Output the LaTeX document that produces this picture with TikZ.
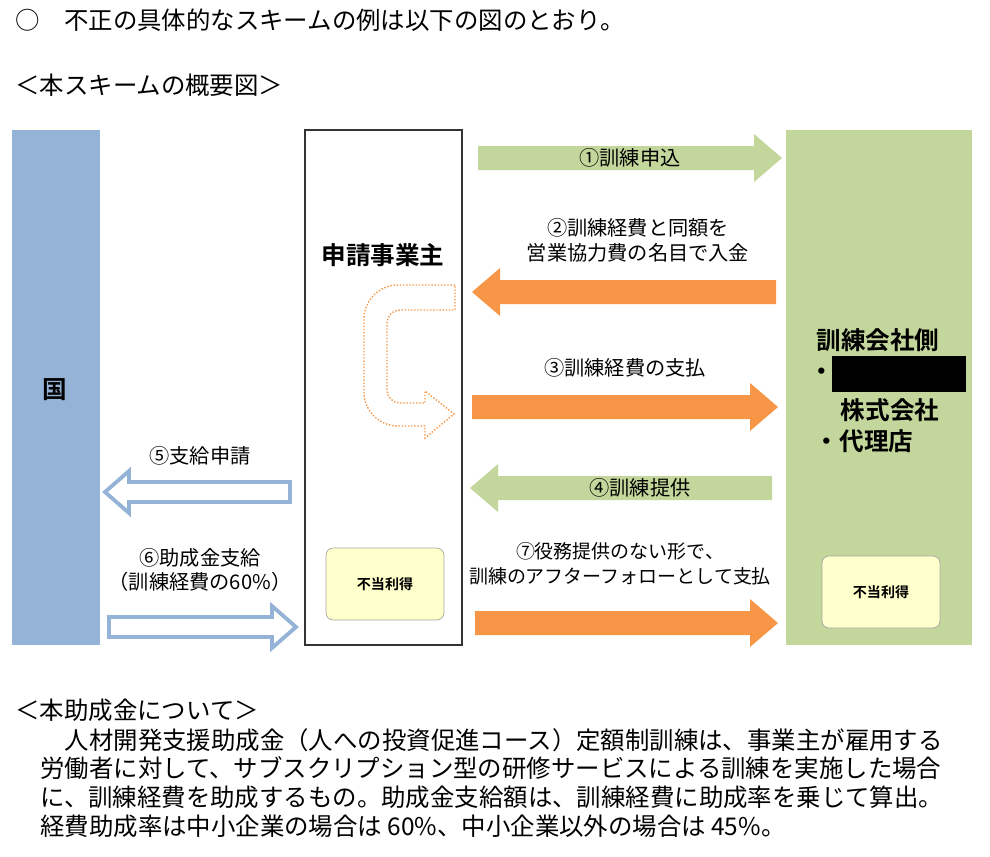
\documentclass[tikz,border=0pt]{standalone}
\usepackage{fontspec}
\setmainfont{Noto Sans CJK JP}[BoldFont={Noto Sans CJK JP Bold}]
\usetikzlibrary{positioning}
\definecolor{kuniblue}{HTML}{95B3D7}
\definecolor{kgreen}{HTML}{C3D69B}
\definecolor{korange}{HTML}{F79646}
\definecolor{lyellow}{HTML}{FFFFCC}
% block arrow: style, tail x, tip x, y, direction (1 right, -1 left)
\newcommand\blockarrow[5]{%
  \draw[#1] (#2,{#4-12}) -- ({#3-#5*28},{#4-12}) -- ({#3-#5*28},{#4-24}) -- (#3,#4)
    -- ({#3-#5*28},{#4+24}) -- ({#3-#5*28},{#4+12}) -- (#2,{#4+12}) -- cycle;}
\newcommand\outlinearrow[5]{%
  \draw[#1] (#2,{#4-10}) -- ({#3-#5*24},{#4-10}) -- ({#3-#5*24},{#4-21}) -- (#3,#4)
    -- ({#3-#5*24},{#4+21}) -- ({#3-#5*24},{#4+10}) -- (#2,{#4+10}) -- cycle;}
\begin{document}
\begin{tikzpicture}[
    x=0.02cm, y=-0.02cm,
    % Styles
    plain/.style={font=\fontsize{13.9}{16}\selectfont, anchor=west, inner sep=0pt},
    label/.style={font=\fontsize{11.5}{14}\selectfont, align=center, inner sep=0pt},
    bigbold/.style={font=\fontsize{14}{17}\selectfont\bfseries, inner sep=0pt},
    gain/.style={draw=gray!70, fill=lyellow, rounded corners=4pt, font=\fontsize{8}{10}\selectfont\bfseries},
    greenarrow/.style={fill=kgreen, draw=none},
    orangearrow/.style={fill=korange, draw=none},
    bluearrow/.style={draw=kuniblue, line width=2.2pt, fill=white},
]
\useasboundingbox (0,0) rectangle (990,856);

% Header
\node[plain] (title) at (15,20) {○\quad 不正の具体的なスキームの例は以下の図のとおり。};
\node[plain] (scheme) at (15,85) {＜本スキームの概要図＞};

% Columns
\fill[kuniblue] (12,130) rectangle (100,645);
\node[bigbold] (kuni) at (55,390) {国};
\draw[black!80, thick] (305,130) rectangle (462,645);
\node[bigbold] (jigyo) at (383,255) {申請事業主};
\node[gain, minimum width=2.36cm, minimum height=1.44cm] (gainA) at (385,584) {不当利得};
\fill[kgreen] (786,130) rectangle (972,645);
\node[bigbold] (kaisha) at (878,340) {訓練会社側};
\node[bigbold] (dot1) at (822,374) {・};
\fill[black] (832,356) rectangle (966,392);
\node[bigbold] (kabu) at (890,410) {株式会社};
\node[bigbold] (dairi) at (864,441) {・代理店};
\node[gain, minimum width=2.36cm, minimum height=1.44cm] (gainB) at (881,592) {不当利得};

% Curved dotted arrow
\draw[korange, densely dotted, thick]
  (455,285) -- (398,285) arc[start angle=270, end angle=180, radius=34] -- (364,392)
  arc[start angle=180, end angle=90, radius=34] -- (425,426) -- (425,438) -- (454,414)
  -- (425,391) -- (425,403) -- (400,403) arc[start angle=90, end angle=180, radius=13]
  -- (387,323) arc[start angle=180, end angle=270, radius=13] -- (455,310) -- cycle;

% Arrows between employer and company
\blockarrow{greenarrow}{478}{782}{158}{1}
\node[label] (s1) at (630,158) {①訓練申込};
\blockarrow{orangearrow}{776}{472}{292}{-1}
\node[label] (s2) at (638,240) {②訓練経費と同額を\\営業協力費の名目で入金};
\blockarrow{orangearrow}{472}{778}{407}{1}
\node[label] (s3) at (625,368) {③訓練経費の支払};
\blockarrow{greenarrow}{772}{470}{488}{-1}
\node[label] (s4) at (640,488) {④訓練提供};
\blockarrow{orangearrow}{475}{778}{623}{1}
\node[label, font=\fontsize{10.8}{14}\selectfont] (s7) at (620,564) {⑦役務提供のない形で、\\訓練のアフターフォローとして支払};

% Arrows between state and employer
\outlinearrow{bluearrow}{290}{105}{492}{-1}
\node[label] (s5) at (200,456) {⑤支給申請};
\outlinearrow{bluearrow}{109}{296}{627}{1}
\node[label] (s6) at (200,570) {⑥助成金支給\\（訓練経費の60\%）};

% About the subsidy
\node[plain] (about) at (15,710) {＜本助成金について＞};
\node[plain] (p1) at (40,740) {\hspace{1em}人材開発支援助成金（人への投資促進コース）定額制訓練は、事業主が雇用する};
\node[plain] (p2) at (40,768) {労働者に対して、サブスクリプション型の研修サービスによる訓練を実施した場合};
\node[plain] (p3) at (40,797) {に、訓練経費を助成するもの。助成金支給額は、訓練経費に助成率を乗じて算出。};
\node[plain] (p4) at (40,826) {経費助成率は中小企業の場合は 60\%、中小企業以外の場合は 45\%。};
\end{tikzpicture}
\end{document}
